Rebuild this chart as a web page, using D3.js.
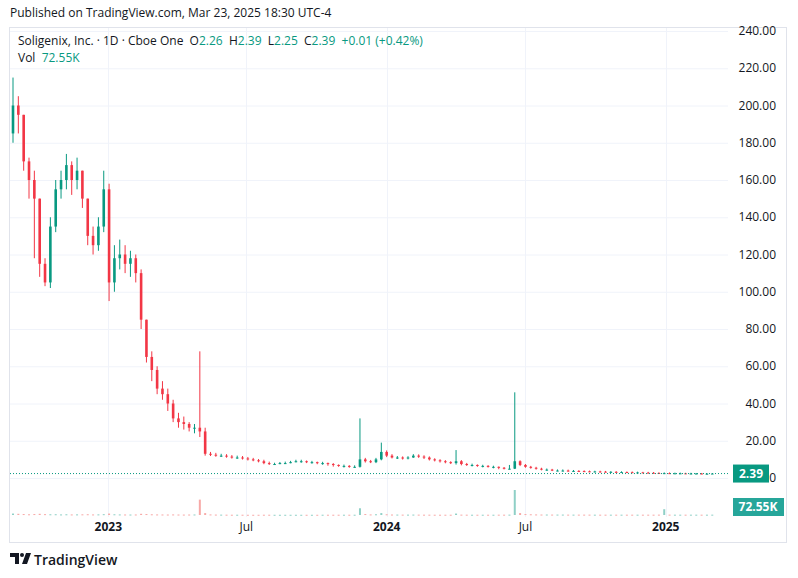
<!DOCTYPE html>
<html><head><meta charset="utf-8">
<script src="https://cdn.jsdelivr.net/npm/d3@7"></script>
<style>body{margin:0;background:#fff;font-family:"Open Sans",Roboto,sans-serif}</style>
</head><body><svg id="c" width="798" height="578"></svg>
<script>
// weekly bars from late Aug 2022
const startDate = "2022-08-29";
const closes = [200,195,170,160,150,115,105,135,155,160,168,160,165,150,130,125,135,155,105,118,120,115,118,110,85,65,58,48,45,40,32,30,29,27,27,25,13,
12.5,12,12,11.5,11,11,10.5,10,9.5,9,8,7.5,7.5,8,8,8.5,9,9,8.5,8.5,8,8,7.5,7,6.5,6.5,6,6,10,9,8.5,10,14,
12,11,11,10.5,11,12,11.5,11,10,9.5,9,8.5,8,9,7.5,7,7,6.5,6.5,6,6,5.5,5,5,9,7,6,5.5,5,4.5,4.5,4,
4,4,3.8,3.8,3.7,3.6,3.5,3.5,3.4,3.3,3.3,3.2,3.2,3.1,3,3,2.9,2.8,2.7,2.6,2.6,2.5,2.5,2.5,2.4,2.4,2.4,2.3,2.3,2.39];
const opens = [185,200,195,170,160,150,115,105,135,155,160,168,160,165,150,130,125,135,155,105,118,120,115,118,110,85,65,58,48,45,40,32,30,29,27,27,25,
13,12.5,12,12,11.5,11,11,10.5,10,9.5,9,8,7.5,7.5,8,8,8.5,9,9,8.5,8.5,8,8,7.5,7,6.5,6.5,6,6,10,9,8.5,10,
14,12,11,11,10.5,11,12,11.5,11,10,9.5,9,8.5,8,9,7.5,7,7,6.5,6.5,6,6,5.5,5,5,9,7,6,5.5,5,4.5,4.5,
4,4,4,3.8,3.8,3.7,3.6,3.5,3.5,3.4,3.3,3.3,3.2,3.2,3.1,3,3,2.9,2.8,2.7,2.6,2.6,2.5,2.5,2.5,2.4,2.4,2.4,2.3,2.26];
const highs = [215,205,195,172,165,150,118,140,160,165,174,170,172,165,150,135,140,165,158,125,128,125,122,120,112,85,68,60,52,48,42,35,33,30,29,68,27,
14,13.5,13,12.8,12.3,12,11.8,11.3,10.8,10.2,9.8,8.8,8.2,8.6,8.8,9.2,9.8,9.8,9.4,9.2,8.8,8.7,8.3,8,7.3,7.2,6.9,6.8,32,10.8,9.7,10.8,19,
14.8,12.8,11.8,11.6,11.7,12.8,12.7,12.2,11.6,10.6,10.1,9.6,9,15,9.6,8.1,7.7,7.3,7.1,6.9,6.6,6.2,5.9,7,46,9.5,7.5,6.5,6,5.5,5.1,4.9,
4.6,4.6,4.5,4.3,4.2,4.1,4,3.9,3.9,3.8,3.7,3.7,3.6,3.5,3.5,3.4,3.3,3.3,3.2,3.1,3,3,2.9,2.9,2.8,2.8,2.7,2.7,2.6,2.45];
const lows = [180,185,165,150,118,108,103,102,132,150,155,152,155,145,125,120,122,132,95,100,112,110,108,105,80,62,52,45,42,36,30,27,26,25,24,22,12,
11.8,11.4,11.3,10.9,10.4,10.3,9.9,9.4,9,8.4,7.4,7,7,7.4,7.5,7.9,8.4,8.2,8,7.7,7.4,7.1,6.6,6.1,6,5.6,5.5,5.5,5.6,8.3,8,8,9.5,
11.2,10.5,10.2,9.9,10,10.8,10.8,10.2,9.4,8.9,8.3,7.9,7.5,7.2,6.8,6.5,6.2,6,5.7,5.6,5.2,4.7,4.6,4.6,4.8,6.4,5.5,5,4.5,4.1,3.9,3.7,
3.6,3.5,3.4,3.4,3.3,3.2,3.1,3.1,3,3,2.9,2.9,2.8,2.8,2.7,2.6,2.6,2.5,2.4,2.3,2.3,2.2,2.2,2.2,2.1,2.1,2.1,2.1,2.1,2.25];
const volumes = [300,250,200,150,200,250,180,150,160,120,150,120,130,140,160,120,130,170,300,150,120,110,100,110,250,200,150,120,110,100,120,100,90,100,110,3200,400,
120,90,80,70,60,60,60,50,50,50,60,60,50,50,50,50,50,50,50,50,50,60,60,60,60,60,60,60,1400,200,120,150,400,
150,100,90,80,80,90,80,70,70,60,60,60,60,300,80,70,60,60,60,60,60,70,70,80,5200,400,200,150,120,100,100,90,
90,90,80,80,80,80,80,70,70,70,70,70,70,70,70,70,70,70,70,80,1200,80,70,70,70,70,70,70,70,73];
const priceTicks = [0,20,40,60,80,100,120,140,160,180,200,220,240];
const timeTicks = [["2023-01-01","2023"],["2023-07-01","Jul"],["2024-01-01","2024"],["2024-07-01","Jul"],["2025-01-01","2025"]];

const up = "#089981", down = "#f23645";
const svg = d3.select("#c");
const parse = d3.utcParse("%Y-%m-%d");
const t0 = parse(startDate);
const dates = closes.map((c, i) => d3.utcDay.offset(t0, i * 7));

const x = d3.scaleUtc().domain([t0, parse("2025-03-21")]).range([13, 726]);
const y = d3.scaleLinear().domain([0, 240]).range([478, 31]);
const yv = d3.scaleLinear().domain([0, d3.max(volumes)]).range([515, 490]);

// frame
svg.append("rect").attr("x", 9.5).attr("y", 27.5).attr("width", 777).attr("height", 515)
  .attr("fill", "none").attr("stroke", "#e0e3eb");

// grid
svg.append("g").selectAll("line").data(priceTicks).join("line")
  .attr("x1", 10).attr("x2", 728).attr("y1", d => y(d) + 0.5).attr("y2", d => y(d) + 0.5)
  .attr("stroke", "#f0f3fa");
svg.append("g").selectAll("line").data(timeTicks).join("line")
  .attr("x1", d => Math.round(x(parse(d[0]))) + 0.5).attr("x2", d => Math.round(x(parse(d[0]))) + 0.5)
  .attr("y1", 28).attr("y2", 517).attr("stroke", "#f0f3fa");

// axes text
svg.append("g").selectAll("text").data(priceTicks).join("text")
  .attr("x", 776).attr("y", d => y(d) + 4).attr("text-anchor", "end")
  .attr("font-size", 12).attr("fill", "#131722").text(d => d.toFixed(2));
svg.append("g").selectAll("text").data(timeTicks).join("text")
  .attr("x", d => x(parse(d[0]))).attr("y", 531).attr("text-anchor", "middle")
  .attr("font-size", 12).attr("font-weight", d => d[1] === "Jul" ? 400 : 700)
  .attr("fill", "#131722").text(d => d[1]);

// volume
const bw = 2.6;
svg.append("g").selectAll("rect").data(volumes).join("rect")
  .attr("x", (v, i) => x(dates[i]) - 1).attr("width", 2)
  .attr("y", v => yv(v)).attr("height", v => Math.max(1, 515 - yv(v)))
  .attr("fill", (v, i) => closes[i] >= opens[i] ? "#8fd0c6" : "#f7a9a7");

// candles
const g = svg.append("g");
g.selectAll("line").data(closes).join("line")
  .attr("x1", (c, i) => x(dates[i])).attr("x2", (c, i) => x(dates[i]))
  .attr("y1", (c, i) => y(highs[i])).attr("y2", (c, i) => y(lows[i]))
  .attr("stroke", (c, i) => c >= opens[i] ? up : down).attr("stroke-width", 1);
g.selectAll("rect").data(closes).join("rect")
  .attr("x", (c, i) => x(dates[i]) - bw / 2).attr("width", bw)
  .attr("y", (c, i) => y(Math.max(c, opens[i])))
  .attr("height", (c, i) => Math.max(1, Math.abs(y(c) - y(opens[i]))))
  .attr("fill", (c, i) => c >= opens[i] ? up : down);

// last price
const last = closes[closes.length - 1];
svg.append("line").attr("x1", 10).attr("x2", 728).attr("y1", y(last)).attr("y2", y(last))
  .attr("stroke", up).attr("stroke-dasharray", "1,2");
svg.append("rect").attr("x", 733).attr("y", y(last) - 9).attr("width", 36).attr("height", 18).attr("fill", up);
svg.append("text").attr("x", 751).attr("y", y(last) + 4).attr("text-anchor", "middle")
  .attr("font-size", 12).attr("font-weight", 700).attr("fill", "#fff").text(last.toFixed(2));
svg.append("rect").attr("x", 733).attr("y", 498).attr("width", 51).attr("height", 18).attr("fill", "#26a69a");
svg.append("text").attr("x", 758).attr("y", 511).attr("text-anchor", "middle")
  .attr("font-size", 12).attr("font-weight", 700).attr("fill", "#fff").text("72.55K");

// header
const sp = "\u00a0\u00a0";
svg.append("text").attr("x", 10).attr("y", 17).attr("font-size", 12).attr("fill", "#131722")
  .text("Published on TradingView.com, Mar 23, 2025 18:30 UTC-4");
const h = svg.append("text").attr("x", 18).attr("y", 45).attr("font-size", 12).attr("fill", "#131722");
h.append("tspan").text("Soligenix, Inc. · 1D · Cboe One" + sp + "O");
h.append("tspan").attr("fill", up).text("2.26");
h.append("tspan").text(sp + "H");
h.append("tspan").attr("fill", up).text("2.39");
h.append("tspan").text(sp + "L");
h.append("tspan").attr("fill", up).text("2.25");
h.append("tspan").text(sp + "C");
h.append("tspan").attr("fill", up).text("2.39" + sp + "+0.01 (+0.42%)");
const v = svg.append("text").attr("x", 18).attr("y", 62).attr("font-size", 12).attr("fill", "#131722");
v.append("tspan").text("Vol" + sp);
v.append("tspan").attr("fill", up).text("72.55K");

// footer logo
svg.append("path").attr("d", "M10 553h9v11h-4v-7h-5z M22 564l4-11h5l-4 11z").attr("fill", "#131722");
svg.append("circle").attr("cx", 22).attr("cy", 555).attr("r", 2).attr("fill", "#131722");
svg.append("text").attr("x", 34).attr("y", 565).attr("font-size", 14).attr("font-weight", 600)
  .attr("fill", "#131722").text("TradingView");
</script></body></html>
